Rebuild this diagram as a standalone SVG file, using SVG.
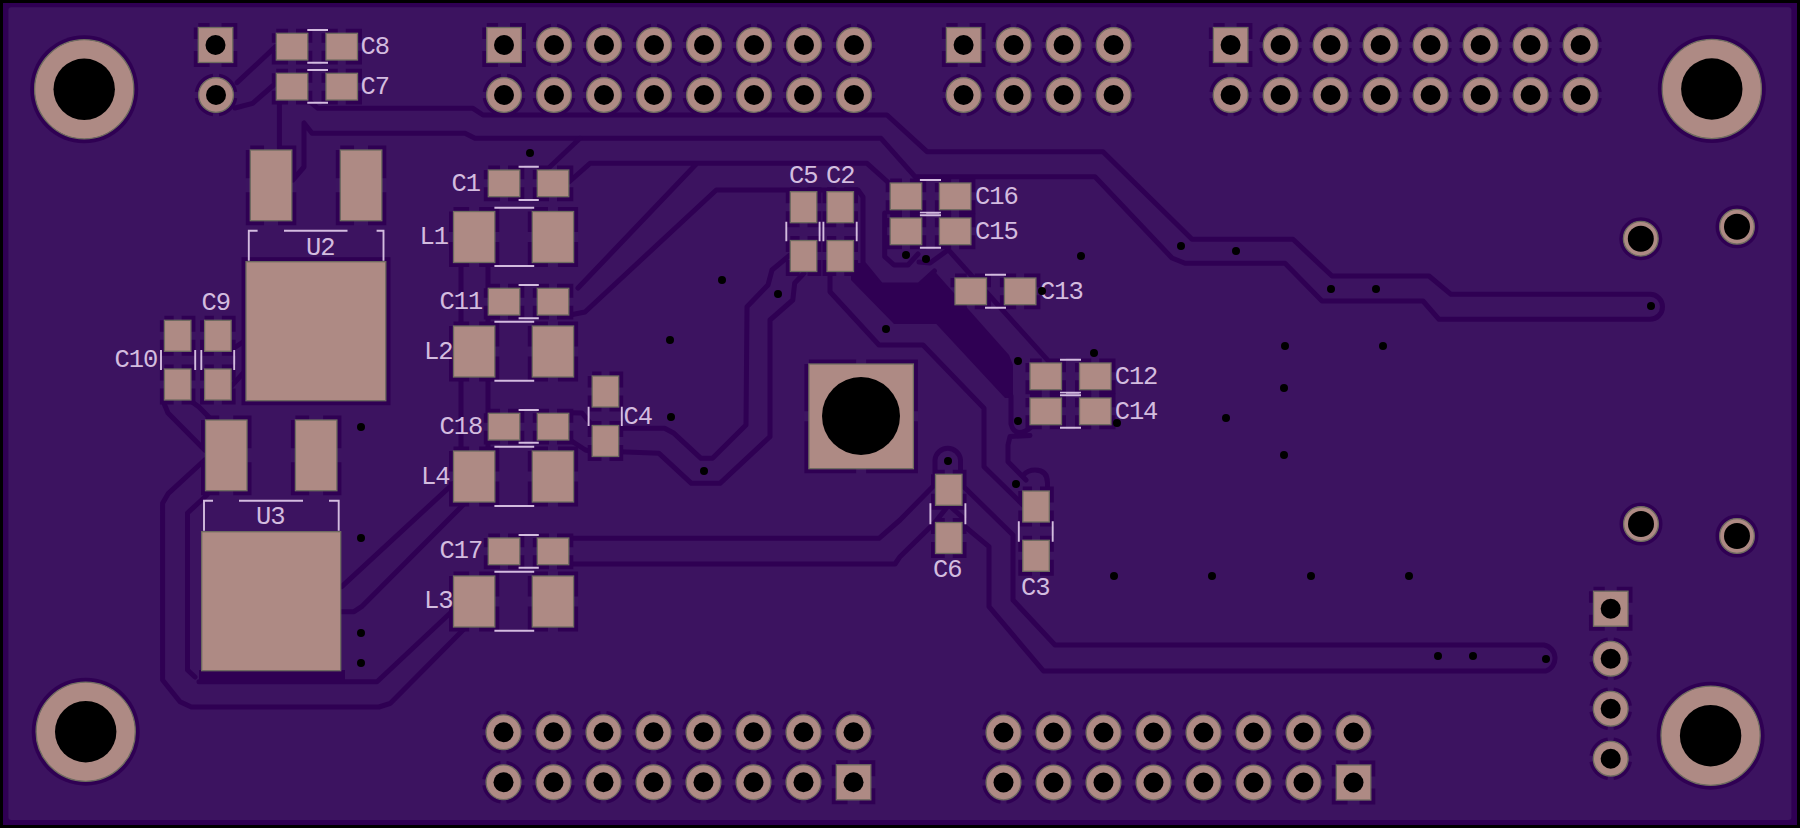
<svg xmlns="http://www.w3.org/2000/svg" xmlns:xlink="http://www.w3.org/1999/xlink" width="1800" height="828" viewBox="0 0 1800 828">
<style>
.cu{fill:#ae8a84;stroke:#6f6c60;stroke-width:1.3}
.nf{fill:#ae8a84}
.dr{fill:#000}
.cl{fill:none;stroke:#2f0053;stroke-width:9}
.g{fill:none;stroke:#2f0053;stroke-width:5;stroke-linejoin:round;stroke-linecap:round}
.s{fill:none;stroke:#d3bcdf;stroke-width:1.9}
text{font-family:"Liberation Mono","DejaVu Sans Mono",monospace;font-size:25.5px;letter-spacing:-1.1px;fill:#d3bcdf;stroke:none}
</style>
<defs>
<g id="v"><circle r="4" class="dr"/></g>
<g id="rp"><circle r="19.5" fill="none" stroke="#2f0053" stroke-width="4" pathLength="100" stroke-dasharray="20 5" stroke-dashoffset="22.5"/><circle r="17.4" class="cu"/><circle r="10" class="dr"/></g>
<g id="sp"><rect x="-17.2" y="-17.5" width="34.5" height="35" class="cl" stroke-dasharray="11.25 12 22.75 12 22.75 12 22.75 12 11.5 0"/><rect x="-17.2" y="-17.5" width="34.5" height="35" class="cu"/><circle r="10" class="dr"/></g>
<g id="rs"><circle r="19.5" fill="none" stroke="#2f0053" stroke-width="4"/><circle r="17.4" class="cu"/><circle r="13" class="dr"/></g>
<g id="mh"><circle r="54" fill="#2f0053"/><circle r="49.6" class="cu"/><circle r="30.7" class="dr"/></g>
<g id="ch"><rect width="31.5" height="26.7" class="cl" stroke-dasharray="11.75 8 21.1 8 21.1 8 21.1 8 9.35 0"/><rect width="31.5" height="26.7" class="cu"/></g>
<g id="cv"><rect width="26.5" height="31" class="cl" stroke-dasharray="9.25 8 20.75 8 20.75 8 20.75 8 11.5 0"/><rect width="26.5" height="31" class="cu"/></g>
<g id="lp"><rect width="41.3" height="51" class="cl" stroke-dasharray="15.65 10 36.15 10 36.15 10 36.15 10 20.5 0"/><rect width="41.3" height="51" class="cu"/></g>
<g id="pn"><rect width="41.5" height="70.7" class="cl" stroke-dasharray="13.75 14 42.1 14 42.1 14 42.1 14 28.35 0"/><rect width="41.5" height="70.7" class="cu"/></g>
</defs>

<g id="board">
<rect width="1800" height="828" fill="#000"/>
<rect x="3" y="3" width="1794" height="822" fill="#2f0053"/>
<rect x="8.4" y="7.3" width="1783" height="812.7" rx="3" fill="#3c1360"/>
</g>

<g id="connectors">
<path class="g" d="M308 100L318 108.3H473L483 115H887L927 151.7H1103L1175.5 223L1192 239.3H1293L1332 276H1429L1451 294.3H1650A12.5 12.5 0 0 1 1650 319.3H1439L1423 301H1322L1285 263.3H1185L1172 258L1095 176.7H915L881 138.3H475L465 133.3H312L304 123V167L292.8 180"/>
<path class="g" d="M237 82.7L275.5 46.7M276 83L252.6 103.3L235 108M279.4 100V148"/>
<path class="g" d="M550 166.7L580 138.3M569 182L590 163.3H867L890 184M578 288L697 163.3M570 315L585 312L716.3 190H858L863 197V263L881 285H919L934.4 271"/>
<path class="g" d="M884.7 213V256.7L894 265H908L918 254M919 262L930 263L948 250M950 251.7L1049 361.7"/>
<path fill="#2f0053" d="M863.6 263L881 285H919L934.4 271L1009 355L1013 365V398H1005L936.3 324H894L851 280V263Z"/>
<path class="g" d="M830 272V291.7L879 345H923L984 408.3V466.7L1023 505M1011 396V424Q1013 432 1019 432.5Q1026 432 1030 428M1030 435.5L1010 436.5L1008 445V461.7L1026 480M1023.4 475Q1028 470 1035 470Q1047.5 470 1047.5 483V491M935 473V460A12.8 12.8 0 0 1 960.5 460V473"/>
<path class="g" d="M790 255L772 270L768 285L747 306.7L746 425L712.5 458.3H701L674 433.3L664.6 428.3H620M804 273.3L794.7 283L792.8 300L770 320V436.7L720 483.3H691.4L659 453.3L620 451.7"/>
<path class="g" d="M962 485L1013 535V600L1055 645H1544A13.5 13.5 0 0 1 1546 671H1043.5L989 606.7V546.7L963 525M570 538.3H879L900 520L934.4 485M570 564H895L900 556.7L934.4 523M934.4 523L948.8 505L962 517"/>
<path class="g" d="M461 263V451M488 263V288M488 315V413M488 440V451M570 440L585.5 450L592 451.7M570 412.7L582 413L592 425"/>
<path class="g" d="M453.5 483.3L341.7 586.7M463 505L361.6 606.7L354 611.7H340.6M453.5 610L377 681.7H199M463 630L390.4 703.3L378.9 707H191.4L180 701.7L162.6 680V503.3L168.4 493.3L204.7 460M207 495L187.5 513V670L195 677M162.6 400L168 413L204.7 450M189.4 400L199 407L208.6 416.7"/>
<path class="g" d="M231 350L246 340M231 386.7L246 370"/>
<rect x="199" y="670" width="146" height="12" fill="#2f0053"/>
</g>

<g id="vias">
<use href="#v" x="530" y="153"/><use href="#v" x="361" y="427"/><use href="#v" x="361" y="538"/><use href="#v" x="361" y="633"/><use href="#v" x="361" y="663"/>
<use href="#v" x="722" y="280"/><use href="#v" x="778" y="294"/><use href="#v" x="670" y="340"/><use href="#v" x="671" y="417"/><use href="#v" x="704" y="471"/><use href="#v" x="886" y="329"/>
<use href="#v" x="906" y="255"/><use href="#v" x="926" y="259"/><use href="#v" x="1081" y="256"/><use href="#v" x="1181" y="246"/><use href="#v" x="1018" y="361"/><use href="#v" x="1094" y="353"/>
<use href="#v" x="1018" y="421"/><use href="#v" x="948" y="461"/><use href="#v" x="1016" y="484"/><use href="#v" x="1236" y="251"/><use href="#v" x="1331" y="289"/><use href="#v" x="1376" y="289"/><use href="#v" x="1651" y="306"/>
<use href="#v" x="1285" y="346"/><use href="#v" x="1383" y="346"/><use href="#v" x="1284" y="388"/><use href="#v" x="1226" y="418"/><use href="#v" x="1284" y="455"/>
<use href="#v" x="1114" y="576"/><use href="#v" x="1212" y="576"/><use href="#v" x="1311" y="576"/><use href="#v" x="1409" y="576"/><use href="#v" x="1438" y="656"/><use href="#v" x="1473" y="656"/><use href="#v" x="1546" y="659"/>
</g>

<g id="mounting">
<use href="#mh" x="84.2" y="89.3"/><use href="#mh" x="85.7" y="731.7"/><use href="#mh" x="1711.8" y="89"/><use href="#mh" x="1710.6" y="735.7"/>
</g>

<g id="J1"><use href="#sp" x="215.5" y="45"/><use href="#rp" x="216" y="95"/></g>
<g id="J2">
<use href="#sp" x="504" y="45"/><use href="#rp" x="554" y="45"/><use href="#rp" x="604" y="45"/><use href="#rp" x="654" y="45"/><use href="#rp" x="704" y="45"/><use href="#rp" x="754" y="45"/><use href="#rp" x="804" y="45"/><use href="#rp" x="854" y="45"/>
<use href="#rp" x="504" y="95"/><use href="#rp" x="554" y="95"/><use href="#rp" x="604" y="95"/><use href="#rp" x="654" y="95"/><use href="#rp" x="704" y="95"/><use href="#rp" x="754" y="95"/><use href="#rp" x="804" y="95"/><use href="#rp" x="854" y="95"/>
</g>
<g id="J3">
<use href="#sp" x="963.6" y="45"/><use href="#rp" x="1013.6" y="45"/><use href="#rp" x="1063.6" y="45"/><use href="#rp" x="1113.6" y="45"/>
<use href="#rp" x="963.6" y="95"/><use href="#rp" x="1013.6" y="95"/><use href="#rp" x="1063.6" y="95"/><use href="#rp" x="1113.6" y="95"/>
</g>
<g id="J4">
<use href="#sp" x="1230.6" y="45"/><use href="#rp" x="1280.6" y="45"/><use href="#rp" x="1330.6" y="45"/><use href="#rp" x="1380.6" y="45"/><use href="#rp" x="1430.6" y="45"/><use href="#rp" x="1480.6" y="45"/><use href="#rp" x="1530.6" y="45"/><use href="#rp" x="1580.6" y="45"/>
<use href="#rp" x="1230.6" y="95"/><use href="#rp" x="1280.6" y="95"/><use href="#rp" x="1330.6" y="95"/><use href="#rp" x="1380.6" y="95"/><use href="#rp" x="1430.6" y="95"/><use href="#rp" x="1480.6" y="95"/><use href="#rp" x="1530.6" y="95"/><use href="#rp" x="1580.6" y="95"/>
</g>
<g id="J5">
<use href="#rp" x="503.5" y="732.3"/><use href="#rp" x="553.5" y="732.3"/><use href="#rp" x="603.5" y="732.3"/><use href="#rp" x="653.5" y="732.3"/><use href="#rp" x="703.5" y="732.3"/><use href="#rp" x="753.5" y="732.3"/><use href="#rp" x="803.5" y="732.3"/><use href="#rp" x="853.5" y="732.3"/>
<use href="#rp" x="503.5" y="782.3"/><use href="#rp" x="553.5" y="782.3"/><use href="#rp" x="603.5" y="782.3"/><use href="#rp" x="653.5" y="782.3"/><use href="#rp" x="703.5" y="782.3"/><use href="#rp" x="753.5" y="782.3"/><use href="#rp" x="803.5" y="782.3"/><use href="#sp" x="853.5" y="782.3"/>
</g>
<g id="J6">
<use href="#rp" x="1003.5" y="732.5"/><use href="#rp" x="1053.5" y="732.5"/><use href="#rp" x="1103.5" y="732.5"/><use href="#rp" x="1153.5" y="732.5"/><use href="#rp" x="1203.5" y="732.5"/><use href="#rp" x="1253.5" y="732.5"/><use href="#rp" x="1303.5" y="732.5"/><use href="#rp" x="1353.5" y="732.5"/>
<use href="#rp" x="1003.5" y="782.5"/><use href="#rp" x="1053.5" y="782.5"/><use href="#rp" x="1103.5" y="782.5"/><use href="#rp" x="1153.5" y="782.5"/><use href="#rp" x="1203.5" y="782.5"/><use href="#rp" x="1253.5" y="782.5"/><use href="#rp" x="1303.5" y="782.5"/><use href="#sp" x="1353.5" y="782.5"/>
</g>
<g id="J7"><use href="#sp" x="1610.7" y="608.7"/><use href="#rp" x="1610.7" y="658.7"/><use href="#rp" x="1610.7" y="708.7"/><use href="#rp" x="1610.7" y="758.7"/></g>
<g id="TP"><use href="#rs" x="1640.8" y="238.7"/><use href="#rs" x="1737" y="226.7"/><use href="#rs" x="1641" y="524"/><use href="#rs" x="1737" y="536"/></g>
<g id="BT1">
<rect x="808.9" y="364" width="104.5" height="104.7" class="cl" stroke-dasharray="47.25 10 94.6 10 94.6 10 94.6 10 47.35 0"/>
<rect x="808.9" y="364" width="104.5" height="104.7" class="cu"/><circle cx="861" cy="416" r="39" class="dr"/>
</g>

<g id="U2">
<rect x="241.5" y="257.2" width="149" height="148" fill="#2f0053"/>
<use href="#pn" x="250.3" y="150"/><use href="#pn" x="340.3" y="150"/>
<rect x="246" y="261.7" width="139.8" height="139" class="cu"/>
<path class="s" d="M257.6 230.7H248.8V260.7M376.6 230.7H383.5V260.7M284 230.7H347.5"/><text x="306" y="255">U2</text>
</g>
<g id="U3">
<use href="#pn" x="205.5" y="420"/><use href="#pn" x="295.4" y="420"/>
<rect x="201.7" y="531.7" width="139" height="139" class="cu"/>
<path class="s" d="M213 500.7H204V530.7M329 500.7H338.7V530.7M239 500.7H303"/><text x="256" y="524.3">U3</text>
</g>
<g id="C8"><use href="#ch" x="276.3" y="33.3"/><use href="#ch" x="326" y="33.3"/><path class="s" d="M307.3 30H328M307.3 62.7H328"/><text x="360.5" y="54.3">C8</text></g>
<g id="C7"><use href="#ch" x="276.3" y="73.3"/><use href="#ch" x="326" y="73.3"/><path class="s" d="M307.3 70H328M307.3 102.7H328"/><text x="360.5" y="94">C7</text></g>
<g id="C1"><use href="#ch" x="488.3" y="170"/><use href="#ch" x="537.3" y="170"/><path class="s" d="M518.6 166.7H538.8M518.6 200H538.8"/><text x="451.5" y="191.3">C1</text></g>
<g id="L1"><use href="#lp" x="453.5" y="211.5"/><use href="#lp" x="532.3" y="211.5"/><path class="s" d="M494.4 207.7H534.2M494.4 266H534.2"/><text x="419.5" y="244.3">L1</text></g>
<g id="C11"><use href="#ch" x="488.3" y="288.3"/><use href="#ch" x="537.3" y="288.3"/><path class="s" d="M518.6 285H538.8M518.6 318.3H538.8"/><text x="439.5" y="309.3">C11</text></g>
<g id="L2"><use href="#lp" x="453.5" y="326"/><use href="#lp" x="532.3" y="326"/><path class="s" d="M494.4 321.7H534.2M494.4 380.7H534.2"/><text x="424" y="359.3">L2</text></g>
<g id="C18"><use href="#ch" x="488.3" y="413.3"/><use href="#ch" x="537.3" y="413.3"/><path class="s" d="M518.6 410H538.8M518.6 442.7H538.8"/><text x="439.5" y="434">C18</text></g>
<g id="L4"><use href="#lp" x="453.5" y="451"/><use href="#lp" x="532.3" y="451"/><path class="s" d="M494.4 446.7H534.2M494.4 506H534.2"/><text x="421" y="484">L4</text></g>
<g id="C17"><use href="#ch" x="488.3" y="538"/><use href="#ch" x="537.3" y="538"/><path class="s" d="M518.6 535H538.8M518.6 567.7H538.8"/><text x="439.5" y="558.3">C17</text></g>
<g id="L3"><use href="#lp" x="453.5" y="576"/><use href="#lp" x="532.3" y="576"/><path class="s" d="M494.4 571.7H534.2M494.4 630.7H534.2"/><text x="424" y="608.3">L3</text></g>
<g id="C10"><use href="#cv" x="164.4" y="320.3"/><use href="#cv" x="164.4" y="369"/><path class="s" d="M161 350V370M195.2 350V370"/><text x="114.5" y="367.3">C10</text></g>
<g id="C9"><use href="#cv" x="204.6" y="320.3"/><use href="#cv" x="204.6" y="369"/><path class="s" d="M201.3 350V370M234.2 350V370"/><text x="201.5" y="310">C9</text></g>
<g id="C4"><use href="#cv" x="592.2" y="376"/><use href="#cv" x="592.2" y="425.5"/><path class="s" d="M588.6 406.7V426M621.8 406.7V426"/><text x="623.5" y="424">C4</text></g>
<g id="C5"><use href="#cv" x="790.3" y="191.7"/><use href="#cv" x="790.3" y="240.5"/><path class="s" d="M786.3 221.7V241.3M819.6 221.7V241.3"/><text x="789" y="182.7">C5</text></g>
<g id="C2"><use href="#cv" x="827" y="191.7"/><use href="#cv" x="827" y="240.5"/><path class="s" d="M823.4 221.7V241.3M856.7 221.7V241.3"/><text x="826" y="182.7">C2</text></g>
<g id="C16"><use href="#ch" x="890.2" y="183"/><use href="#ch" x="939.4" y="183"/><path class="s" d="M919.9 180H941M919.9 212.7H941"/><text x="975" y="204">C16</text></g>
<g id="C15"><use href="#ch" x="890.2" y="218"/><use href="#ch" x="939.4" y="218"/><path class="s" d="M919.9 215.3H941M919.9 247.7H941"/><text x="975" y="239">C15</text></g>
<g id="C13"><use href="#ch" x="955" y="278"/><use href="#ch" x="1004.4" y="278"/><path class="s" d="M985 274.7H1006M985 307.7H1006"/><text x="1040" y="299">C13</text><use href="#v" x="1042" y="291"/></g>
<g id="C12"><use href="#ch" x="1030" y="363"/><use href="#ch" x="1079.5" y="363"/><path class="s" d="M1060 359.7H1081M1060 392.7H1081"/><text x="1114.7" y="384">C12</text></g>
<g id="C14"><use href="#ch" x="1030" y="398"/><use href="#ch" x="1079.5" y="398"/><path class="s" d="M1060 395.3H1081M1060 427.7H1081"/><text x="1114.7" y="419">C14</text><use href="#v" x="1117" y="423"/></g>
<g id="C6"><use href="#cv" x="935.5" y="474.3"/><use href="#cv" x="935.5" y="522.5"/><path class="s" d="M930.4 503.3V524.3M965.4 503.3V524.3"/><text x="933" y="576.7">C6</text></g>
<g id="C3"><use href="#cv" x="1022.8" y="491"/><use href="#cv" x="1022.8" y="540.3"/><path class="s" d="M1018.8 521.3V541.7M1052.7 521.3V541.7"/><text x="1021" y="594.7">C3</text></g>
</svg>
